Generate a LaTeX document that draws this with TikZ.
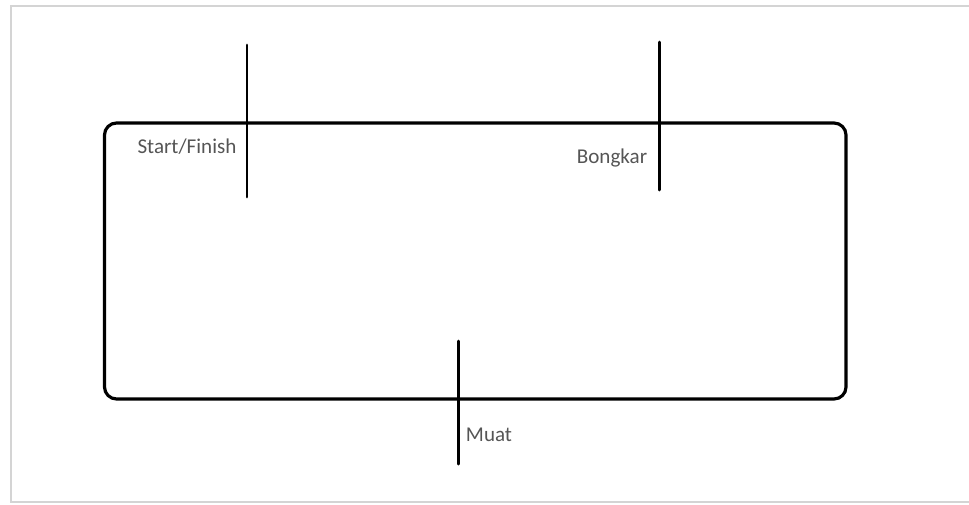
\documentclass[tikz,border=0pt]{standalone}
\usepackage{fontspec}
\setmainfont{Carlito}
\usepackage{xcolor}
\usetikzlibrary{positioning}

\definecolor{labelgray}{HTML}{555555}
\definecolor{framegray}{HTML}{D4D4D4}

\begin{document}
\begin{tikzpicture}[x=0.02cm, y=-0.02cm,
  route/.style={line width=1.8pt, rounded corners=0.24cm},
  stop/.style={line width=1.7pt, line cap=round},
  lbl/.style={font=\fontsize{12}{14}\selectfont, text=labelgray, inner sep=0pt}]
\useasboundingbox (0,0) rectangle (969,504);
% page frame
\draw[framegray, line width=1pt] (969,6) -- (11,6) -- (11,502) -- (969,502);

% loop
\draw[route] (104.5,123) rectangle (846,399);

% stops
\coordinate (sfTop) at (247,45);
\coordinate (sfBot) at (247,197);
\coordinate (bkTop) at (659,42);
\coordinate (bkBot) at (659,190);
\coordinate (mtTop) at (458,341);
\coordinate (mtBot) at (458,464);
\draw[stop] (sfTop) -- (sfBot);
\draw[stop] (bkTop) -- (bkBot);
\draw[stop] (mtTop) -- (mtBot);

\node[lbl] (start) at (187,147) {Start/Finish};
\node[lbl] (bongkar) at (612,158) {Bongkar};
\node[lbl] (muat) at (489,435) {Muat};
\end{tikzpicture}
\end{document}
